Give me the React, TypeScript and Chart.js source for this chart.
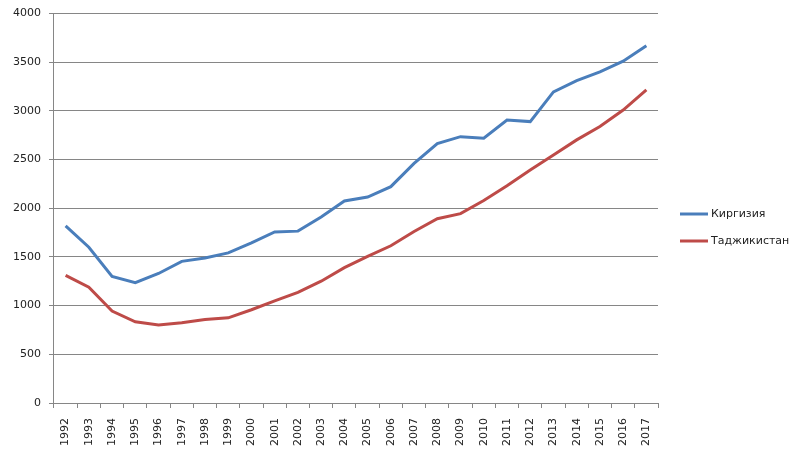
import React, { useEffect, useRef } from "react";
import { Chart, registerables } from "chart.js";
Chart.register(...registerables);

const years = ["1992","1993","1994","1995","1996","1997","1998","1999","2000","2001","2002","2003","2004","2005","2006","2007","2008","2009","2010","2011","2012","2013","2014","2015","2016","2017"];
const kyrgyzstan = [1820,1600,1300,1235,1330,1455,1490,1542,1645,1757,1765,1910,2075,2115,2222,2460,2665,2735,2720,2905,2890,3195,3310,3400,3510,3670];
const tajikistan = [1310,1190,944,834,800,824,858,875,958,1048,1136,1251,1390,1505,1615,1762,1893,1945,2080,2230,2393,2548,2702,2840,3008,3215];
const seriesNames = ["Киргизия", "Таджикистан"];
const seriesColors = ["#4a7ebb", "#be4b48"];
const yMin = 0;
const yMax = 4000;
const yStep = 500;

const FONT = "'DejaVu Sans', sans-serif";

const legendPlugin = {
  id: "customLegend",
  afterDraw(chart: any) {
    const ctx = chart.ctx;
    ctx.save();
    const x0 = 680;
    const rows = [214, 241];
    chart.data.datasets.forEach((ds: any, i: number) => {
      const y = rows[i];
      ctx.strokeStyle = ds.borderColor;
      ctx.lineWidth = 3;
      ctx.beginPath();
      ctx.moveTo(x0, y);
      ctx.lineTo(x0 + 28, y);
      ctx.stroke();
      ctx.fillStyle = "#222";
      ctx.font = "11px " + FONT;
      ctx.textBaseline = "middle";
      ctx.textAlign = "left";
      ctx.fillText(ds.label, x0 + 31, y);
    });
    ctx.restore();
  },
};

export default function App() {
  const ref = useRef<HTMLCanvasElement>(null);
  useEffect(() => {
    if (!ref.current) return;
    const chart = new Chart(ref.current, {
      type: "line",
      data: {
        labels: years,
        datasets: [
          { label: seriesNames[0], data: kyrgyzstan, borderColor: seriesColors[0], backgroundColor: seriesColors[0], borderWidth: 3, pointRadius: 0, tension: 0 },
          { label: seriesNames[1], data: tajikistan, borderColor: seriesColors[1], backgroundColor: seriesColors[1], borderWidth: 3, pointRadius: 0, tension: 0 },
        ],
      },
      options: {
        animation: false,
        responsive: false,
        maintainAspectRatio: false,
        layout: { padding: { left: 5, right: 142, top: 0, bottom: 2 } },
        plugins: { legend: { display: false }, tooltip: { enabled: false } },
        scales: {
          x: {
            offset: true,
            grid: { display: true, drawOnChartArea: false, drawTicks: true, tickLength: 5, offset: true, color: "#868686" },
            border: { display: true, color: "#868686", width: 1 },
            ticks: { autoSkip: false, minRotation: 90, maxRotation: 90, padding: 10, color: "#222", font: { family: FONT, size: 11 } },
          },
          y: {
            min: yMin,
            max: yMax,
            ticks: { stepSize: yStep, padding: 8, color: "#222", font: { family: FONT, size: 11, lineHeight: 1 }, callback: (v: any) => String(v) },
            grid: { color: "#868686", tickLength: 5, drawTicks: true },
            border: { display: true, color: "#868686", width: 1 },
          },
        },
      },
      plugins: [legendPlugin],
    });
    return () => chart.destroy();
  }, []);
  return (
    <div style={{ position: "fixed", left: 0, top: 0, width: 800, height: 458, background: "#fff" }}>
      <canvas ref={ref} width={800} height={458} style={{ width: 800, height: 458 }} />
    </div>
  );
}
